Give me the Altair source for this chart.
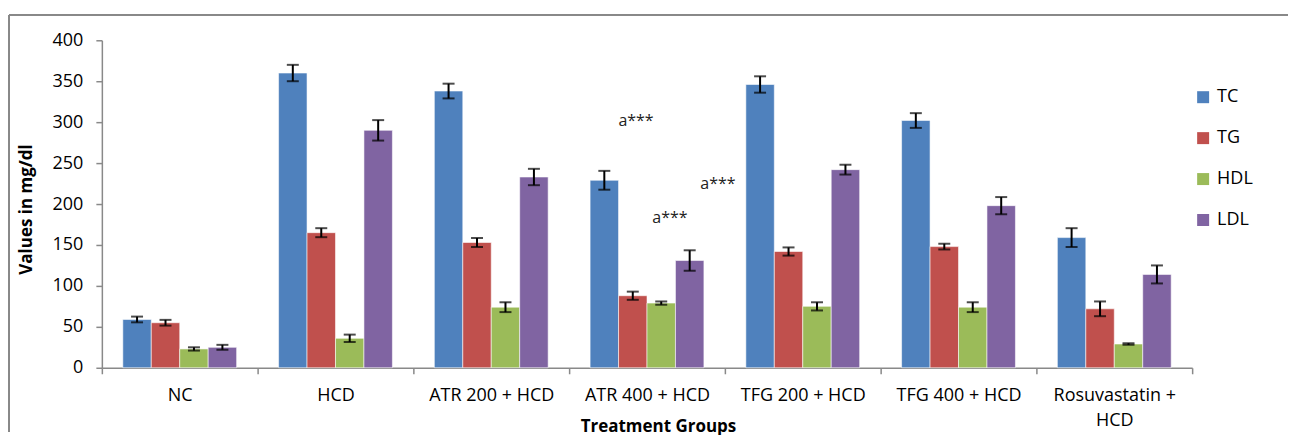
import altair as alt
import pandas as pd

groups = ["NC", "HCD", "ATR 200 + HCD", "ATR 400 + HCD", "TFG 200 + HCD",
          "TFG 400 + HCD", "Rosuvastatin + HCD"]
series = ["TC", "TG", "HDL", "LDL"]
colors = ["#4F81BD", "#C0504D", "#9BBB59", "#8064A2"]

tc = [59, 360, 338, 229, 346, 302, 159]
tg = [55, 165, 153, 88, 142, 148, 72]
hdl = [23, 36, 74, 79, 75, 74, 29]
ldl = [25, 290, 233, 131, 242, 198, 114]

err_tc = [3.5, 10, 9, 11.5, 10, 9, 11.5]
err_tg = [3.5, 5.5, 5.5, 5, 5, 3.5, 9]
err_hdl = [2, 4.5, 6, 2, 5, 6, 1]
err_ldl = [3, 12.5, 10, 12.5, 6, 10.5, 11]

y_ticks = [0, 50, 100, 150, 200, 250, 300, 350, 400]

ann_text = ["a***", "a***", "a***"]
ann_group = ["ATR 400 + HCD", "ATR 400 + HCD", "ATR 400 + HCD"]
ann_y = [301, 224, 183]
ann_dx = [-11, 71, 23]

rows = []
for s, vals, errs in zip(series, [tc, tg, hdl, ldl], [err_tc, err_tg, err_hdl, err_ldl]):
    for g, v, e in zip(groups, vals, errs):
        rows.append({"group": g, "series": s, "value": v, "lo": v - e, "hi": v + e})
df = pd.DataFrame(rows)

FONT = "Open Sans"
GRAY = "#898989"

x_enc = alt.X(
    "group:N", sort=groups,
    scale=alt.Scale(paddingInner=0, paddingOuter=0),
    axis=alt.Axis(
        title="Treatment Groups", labelAngle=0, tickBand="extent",
        tickSize=6, tickColor=GRAY, domainColor=GRAY, domainWidth=1.5, tickWidth=1.5,
        labelPadding=13, labelFontSize=18, labelLineHeight=25, labelLimit=0,
        labelOverlap=False, grid=False,
        labelExpr="datum.label == 'Rosuvastatin + HCD' ? ['Rosuvastatin +', 'HCD'] : datum.label",
        titleFontSize=17, titleFontWeight="bold", titleX=557, titleY=64,
        titleBaseline="alphabetic",
    ),
)
xo_enc = alt.XOffset("series:N", sort=series,
                     scale=alt.Scale(paddingInner=0, paddingOuter=0.737))

base = alt.Chart(df)

bars = base.mark_bar(stroke="white", strokeWidth=0.8, strokeOpacity=0.7).encode(
    x=x_enc,
    xOffset=xo_enc,
    y=alt.Y(
        "value:Q",
        scale=alt.Scale(domain=[0, 400], nice=False),
        axis=alt.Axis(
            title="Values in mg/dl", values=y_ticks, grid=False,
            tickSize=6, tickColor=GRAY, domainColor=GRAY, domainWidth=1.5, tickWidth=1.5,
            labelPadding=13, labelFontSize=18,
            titleFontSize=17, titleFontWeight="bold", titleX=-70, titleY=169,
            titleBaseline="alphabetic",
        ),
    ),
    color=alt.Color(
        "series:N", sort=series,
        scale=alt.Scale(domain=series, range=colors),
        legend=alt.Legend(
            title=None, orient="none", legendX=1094, legendY=48,
            symbolType="square", symbolSize=144, symbolStrokeWidth=0,
            rowPadding=23, labelOffset=5, labelFontSize=18, padding=0,
        ),
    ),
)

err_rule = base.mark_rule(color="black", strokeWidth=2).encode(
    x=alt.X("group:N", sort=groups), xOffset=xo_enc,
    y="lo:Q", y2="hi:Q",
)
cap_lo = base.mark_tick(color="black", thickness=2, size=12).encode(
    x=alt.X("group:N", sort=groups), xOffset=xo_enc, y="lo:Q",
)
cap_hi = base.mark_tick(color="black", thickness=2, size=12).encode(
    x=alt.X("group:N", sort=groups), xOffset=xo_enc, y="hi:Q",
)

ann_layers = []
for t, g, yv, dx in zip(ann_text, ann_group, ann_y, ann_dx):
    adf = pd.DataFrame({"group": [g], "value": [yv], "label": [t]})
    ann_layers.append(
        alt.Chart(adf).mark_text(font=FONT, fontSize=16, color="#222222", dx=dx,
                                 baseline="middle").encode(
            x=alt.X("group:N", sort=groups), y="value:Q", text="label:N"
        )
    )

frame_top = alt.Chart(df).mark_rule(color=GRAY, strokeWidth=1).encode(
    x=alt.value(-93), x2=alt.value(1188), y=alt.value(-25)
)
frame_left = alt.Chart(df).mark_rule(color=GRAY, strokeWidth=1).encode(
    x=alt.value(-93), y=alt.value(-25), y2=alt.value(392)
)

chart = alt.layer(
    frame_top, frame_left, bars, err_rule, cap_lo, cap_hi, *ann_layers
).properties(
    width=1092, height=328,
    padding={"top": 6, "left": 0, "right": 0, "bottom": 0},
    view=alt.ViewBackground(stroke="transparent", strokeWidth=0),
).configure_view(strokeWidth=0, stroke="transparent").configure(
    font=FONT
).configure_axis(
    labelFont=FONT, titleFont=FONT, labelColor="black", titleColor="black"
).configure_legend(labelFont=FONT, labelColor="black")

chart.save("out.html", embed_options={"renderer": "svg", "actions": False})
